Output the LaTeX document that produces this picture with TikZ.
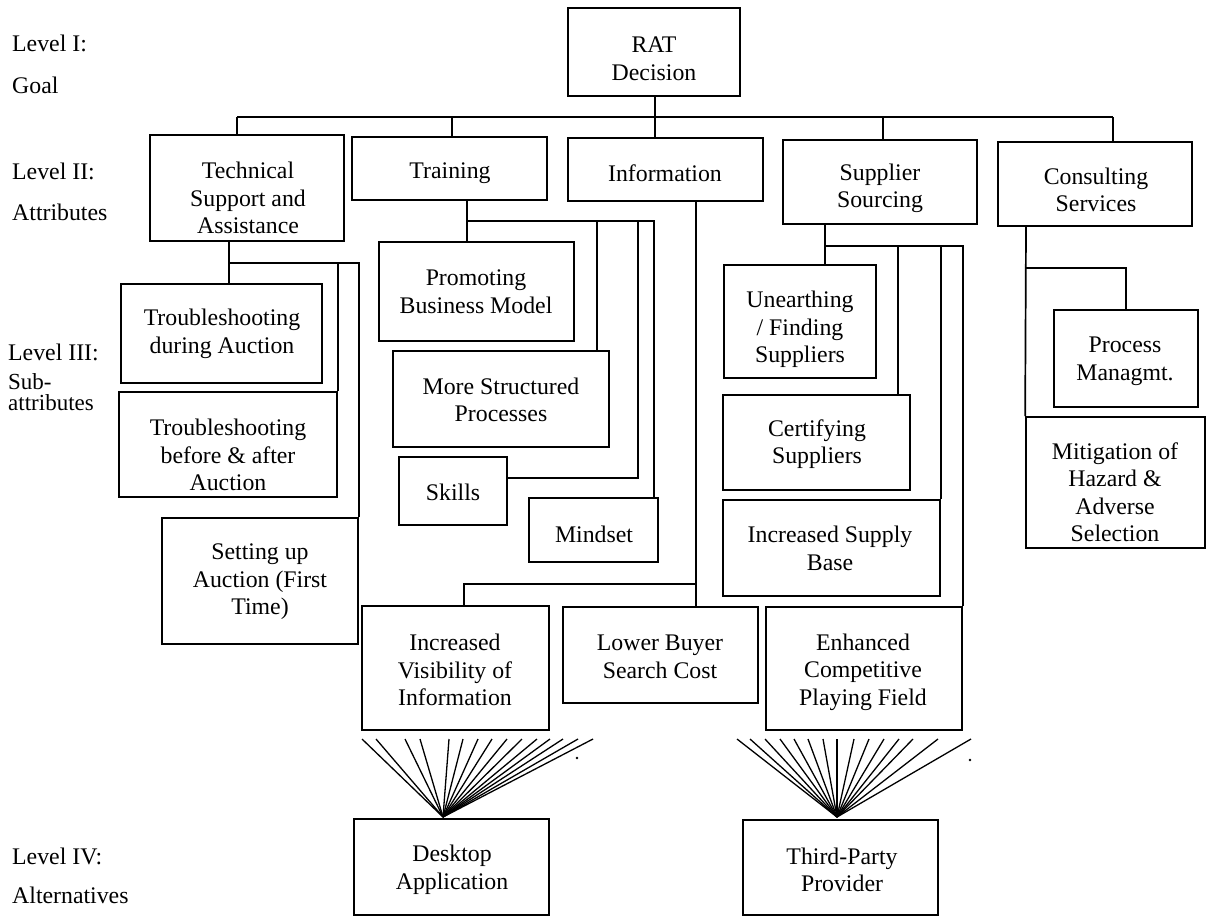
\documentclass[tikz,border=0pt]{standalone}
\usepackage{fontspec}
\setmainfont{Liberation Serif}
\usetikzlibrary{calc}
\newcommand\mybox[5]{\node[box, minimum width={#4-#2}, minimum height={#5-#3}] (#1) at ({(#2+#4)/2},{(#3+#5)/2}) {};}
\begin{document}
\begin{tikzpicture}[x=1pt,y=-1pt,
  box/.style={draw, rectangle, inner sep=0pt, line width=1.7pt},
  txt/.style={align=center, inner sep=0pt, font=\fontsize{23.8}{27.5}\selectfont},
  lvl/.style={anchor=west, align=left, inner sep=0pt, font=\fontsize{23.8}{27.5}\selectfont},
  conn/.style={line width=1.7pt},
  fan/.style={line width=1.3pt}]
\useasboundingbox (0,0) rectangle (1209,916);

% level labels
\node[lvl] (l1) at (12,43) {Level I:};
\node[lvl] (l1b) at (12,85) {Goal};
\node[lvl] (l2) at (12,171) {Level II:};
\node[lvl] (l2b) at (12,212) {Attributes};
\node[lvl] (l3) at (8,352) {Level III:};
\node[lvl, font=\fontsize{23}{21}\selectfont] (l3b) at (8,392) {Sub-\\attributes};
\node[lvl] (l4) at (12,856) {Level IV:};
\node[lvl] (l4b) at (12,895) {Alternatives};

% boxes
\mybox{rat}{568}{8}{740}{96}
\mybox{tech}{150}{135}{344}{241}
\mybox{train}{352}{137}{547}{200}
\mybox{info}{568}{138}{763}{201}
\mybox{supp}{783}{140}{977}{224}
\mybox{cons}{998}{142}{1192}{226}
\mybox{tdur}{121}{284}{322}{383}
\mybox{tba}{119}{392}{337}{497}
\mybox{setup}{162}{518}{358}{644}
\mybox{promo}{379}{242}{574}{341}
\mybox{mstr}{393}{351}{609}{447}
\mybox{skills}{399}{457}{507}{525}
\mybox{mind}{529}{498}{658}{562}
\mybox{unea}{724}{265}{876}{378}
\mybox{cert}{723}{395}{910}{490}
\mybox{isb}{723}{500}{940}{596}
\mybox{proc}{1054}{310}{1198}{407}
\mybox{miti}{1026}{417}{1205}{548}
\mybox{ivis}{362}{606}{549}{730}
\mybox{lbsc}{563}{607}{758}{703}
\mybox{ecpf}{766}{607}{962}{730}
\mybox{desk}{354}{819}{549}{915}
\mybox{third}{743}{820}{938}{915}

% texts
\node[txt] (rat-t) at (654,59) {RAT\\Decision};
\node[txt] (tech-t) at (248,198) {Technical\\Support and\\Assistance};
\node[txt] (train-t) at (450,173) {Training};
\node[txt] (info-t) at (665,173) {Information};
\node[txt] (supp-t) at (880,188.5) {Supplier\\Sourcing};
\node[txt] (cons-t) at (1096,190) {Consulting\\Services};
\node[txt] (tdur-t) at (222,334) {Troubleshooting\\during Auction};
\node[txt] (tba-t) at (228,455) {Troubleshooting\\before \& after\\Auction};
\node[txt] (setup-t) at (260,582) {Setting up\\Auction (First\\Time)};
\node[txt] (promo-t) at (476,291.5) {Promoting\\Business Model};
\node[txt] (mstr-t) at (501,400) {More Structured\\Processes};
\node[txt] (skills-t) at (453,492) {Skills};
\node[txt] (mind-t) at (594,534) {Mindset};
\node[txt] (unea-t) at (800,329.5) {Unearthing\\/ Finding\\Suppliers};
\node[txt] (cert-t) at (817,444) {Certifying\\Suppliers};
\node[txt] (isb-t) at (830,548.5) {Increased Supply\\Base};
\node[txt] (proc-t) at (1125,361.5) {Process\\Managmt.};
\node[txt] (miti-t) at (1115,492) {Mitigation of\\Hazard \&\\Adverse\\Selection};
\node[txt] (ivis-t) at (455,670) {Increased\\Visibility of\\Information};
\node[txt] (lbsc-t) at (660,657) {Lower Buyer\\Search Cost};
\node[txt] (ecpf-t) at (863,672) {Enhanced\\Competitive\\Playing Field};
\node[txt] (desk-t) at (452,870) {Desktop\\Application};
\node[txt] (third-t) at (842,870) {Third-Party\\Provider};

% level I -> level II
\coordinate (b0) at (237,117);
\coordinate (b1) at (452,117);
\coordinate (b2) at (655,117);
\coordinate (b3) at (883,117);
\coordinate (b4) at (1113,117);
\draw[conn] (b0) -- (b4);
\draw[conn] (rat.south -| b2) -- (info.north -| b2);
\draw[conn] (b0) -- (b0 |- tech.north);
\draw[conn] (b1) -- (b1 |- train.north);
\draw[conn] (b3) -- (b3 |- supp.north);
\draw[conn] (b4) -- (b4 |- cons.north);

% technical support subtree
\coordinate (t0) at (229,263);
\draw[conn] (tech.south -| t0) -- (tdur.north -| t0);
\draw[conn] (t0) -| (tba.north east);
\draw[conn] (t0) -| (setup.north east);

% training subtree
\coordinate (r0) at (467,221);
\coordinate (r2) at (638,478);
\draw[conn] (train.south -| r0) -- (promo.north -| r0);
\draw[conn] (r0) -| ([xshift=-13pt]mstr.north east);
\draw[conn] (r0) -| ([xshift=-5pt]mind.north east);
\draw[conn] (r0) -| (r2) -- (r2 -| skills.east);

% information subtree
\coordinate (i0) at (696,584);
\coordinate (i1) at (464,584);
\draw[conn] (info.south -| i0) -- (lbsc.north -| i0);
\draw[conn] (i0) -- (i1) -- (i1 |- ivis.north);

% supplier sourcing subtree
\coordinate (s0) at (825,246);
\draw[conn] (supp.south -| s0) -- (unea.north -| s0);
\draw[conn] (s0) -| ([xshift=-13pt]cert.north east);
\draw[conn] (s0) -| (isb.north east);
\draw[conn] (s0) -| (ecpf.north east);

% consulting subtree
\coordinate (c0) at (1026,268);
\draw[conn] (cons.south -| c0) -- (miti.north west);
\draw[conn] (c0) -| (proc.north);

% fans to alternatives
\coordinate (da) at (443,817);
\coordinate (ta) at (837,817);
\foreach \x [count=\i] in {362,376,405,420,449,463,478,492,507,522,537,550,563,578,593} {
  \coordinate (df\i) at (\x,739);
  \draw[fan] (df\i) -- (da);
}
\foreach \x [count=\i] in {737,750,765,780,794,808,823,837,854,869,884,899,913,938,971} {
  \coordinate (tf\i) at (\x,739);
  \draw[fan] (tf\i) -- (ta);
}
\fill (577,758) circle (1.3);
\fill (970,760) circle (1.3);
\end{tikzpicture}
\end{document}
